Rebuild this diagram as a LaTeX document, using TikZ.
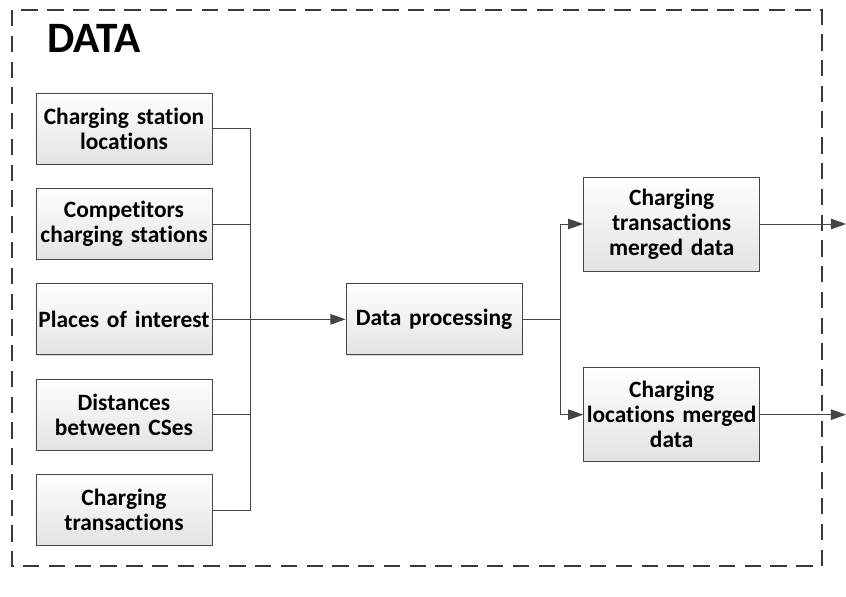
\documentclass[tikz,border=0pt]{standalone}
\usepackage{fontspec}
\setmainfont{Carlito}[Ligatures=NoCommon]
\usetikzlibrary{positioning,arrows.meta,shadows}

\definecolor{wiregray}{HTML}{454545}
\definecolor{framegray}{HTML}{3A3A3A}

\tikzstyle{block} = [rectangle, draw=wiregray, line width=0.7pt, top color=white, bottom color=gray!22, text width=5.2cm, align=center, minimum width=5.28cm, minimum height=2.13cm, inner sep=1pt, font=\fontsize{20}{21.5}\selectfont\bfseries, drop shadow={shadow xshift=0.6pt, shadow yshift=-0.6pt, fill=gray!45, opacity=0.6}]
\tikzstyle{tall} = [minimum height=2.82cm]
\tikzstyle{wire} = [draw=wiregray, line width=0.8pt]
\tikzstyle{line} = [wire, -{Triangle[length=13pt, width=9pt]}]

\begin{document}
\begin{tikzpicture}[node distance = 2.86cm, auto]

  \useasboundingbox (0,0) rectangle (25.38,-17.91);
  \draw[framegray, line width=1.5pt, dash pattern=on 14pt off 8pt] (0.36,-0.3) rectangle (24.66,-16.98);
  \node[font=\fontsize{37}{40}\selectfont\bfseries] (title) at (2.82,-1.15) {DATA};

  % data sources
  \node[block] (loc) at (3.72,-3.86) {Charging station\\locations};
  \node[block, below of = loc] (comp) {Competitors\\charging stations};
  \node[block, below of = comp] (poi) {Places of interest};
  \node[block, below of = poi] (dist) {Distances\\between CSes};
  \node[block, below of = dist] (trans) {Charging\\transactions};

  \node[block, right of = poi, node distance = 9.3cm] (proc) {Data processing};

  % merged outputs
  \node[block, tall] (mergedtr) at (20.15,-6.72) {Charging\\transactions\\merged data};
  \node[block, tall] (mergedloc) at (20.15,-12.44) {Charging\\locations merged\\data};

  \coordinate[right = 1.14cm of loc] (busin);
  \coordinate[right = 1.14cm of trans] (busout);
  \coordinate[right = 1.14cm of proc] (split);
  \coordinate[right = 2.58cm of mergedtr] (outtr);
  \coordinate[right = 2.58cm of mergedloc] (outloc);

  \path [wire] (loc) -- (busin) -- (busout) -- (trans);
  \path [wire] (comp) -- (comp -| busin);
  \path [wire] (dist) -- (dist -| busin);
  \path [line] (poi) -- (proc);
  \path [wire] (proc) -- (split);
  \path [line] (split) |- (mergedtr);
  \path [line] (split) |- (mergedloc);
  \path [line] (mergedtr) -- (outtr);
  \path [line] (mergedloc) -- (outloc);

\end{tikzpicture}
\end{document}
